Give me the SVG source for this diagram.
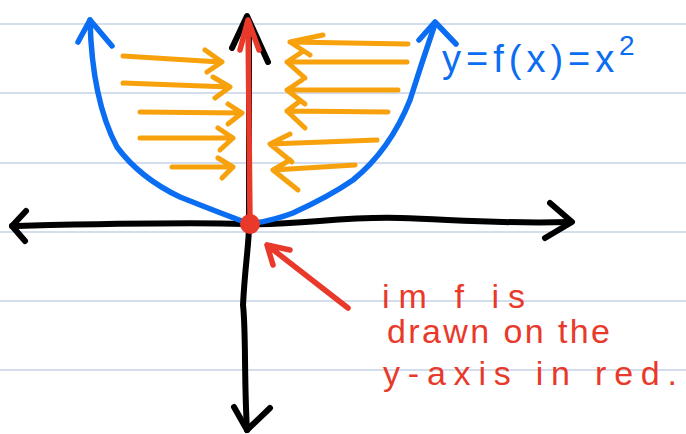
<svg xmlns="http://www.w3.org/2000/svg" width="686" height="434" viewBox="0 0 686 434">
<style>
.rule{stroke:#c6d2e4;stroke-width:1.5}
.k{fill:none;stroke:#000;stroke-width:6;stroke-linecap:round;stroke-linejoin:round}
.b{fill:none;stroke:#0a6df2;stroke-width:5.5;stroke-linecap:round;stroke-linejoin:round}
.o{fill:none;stroke:#f7a10c;stroke-width:5;stroke-linecap:round;stroke-linejoin:round}
.r{fill:none;stroke:#e8392a;stroke-width:5.5;stroke-linecap:round;stroke-linejoin:round}
.rt{fill:#e8392a;font-family:"Liberation Sans",Arial,sans-serif;font-size:34px}
.bt{fill:#0a6df2;font-family:"Liberation Sans",Arial,sans-serif;font-size:38px}
</style>
<rect width="686" height="434" fill="#fff"/>
<g id="rules">
<line class="rule" x1="0" y1="24" x2="686" y2="24"/>
<line class="rule" x1="0" y1="93" x2="686" y2="93"/>
<line class="rule" x1="0" y1="163" x2="686" y2="163"/>
<line class="rule" x1="0" y1="232" x2="686" y2="232"/>
<line class="rule" x1="0" y1="301" x2="686" y2="301"/>
<line class="rule" x1="0" y1="370" x2="686" y2="370"/>
</g>
<g id="orange-left">
<path class="o" d="M123,56 L220,62 M205,50 L222,62 L207,72"/>
<path class="o" d="M123,83 L230,87 M213,77 L230,87 L215,98"/>
<path class="o" d="M140,112 L242,113 M228,104 L242,113 L228,124"/>
<path class="o" d="M140,138 L233,138 M218,128 L233,138 L220,150"/>
<path class="o" d="M172,167 L233,167 M218,158 L233,167 L222,178"/>
</g>
<g id="orange-right">
<path class="o" d="M408,44 L290,42 M323,35 L290,42 L310,55"/>
<path class="o" d="M407,62 L287,62 M302,52 L287,62 L305,78"/>
<path class="o" d="M398,90 L287,90 M302,80 L287,90 L305,104"/>
<path class="o" d="M388,112 L287,111 M300,101 L287,111 L305,128"/>
<path class="o" d="M377,140 L270,144 M290,134 L270,144 L292,162"/>
<path class="o" d="M355,165 L273,170 M290,160 L273,170 L298,190"/>
</g>
<g id="axes">
<path class="k" d="M12,226 C100,224 180,222 245,224 C300,226 340,216 400,218 C460,220 500,224 570,222"/>
<path class="k" d="M26,211 L12,226 L25,241"/>
<path class="k" d="M550,203 L572,222 L545,238"/>
<path class="k" d="M247,430 C244,380 246,330 243,305 C245,265 249,245 249,225 L249,22"/>
<path class="k" d="M232,48 L247,16 L268,62"/>
<path class="k" d="M234,407 L247,430 L270,408"/>
</g>
<g id="parabola">
<path class="b" d="M90,20 Q92,100 117,147 Q140,178 180,197 Q220,213 250,224 Q275,220 293,213 Q330,196 353,180 Q390,150 410,100 Q422,62 435,24"/>
<path class="b" d="M78,42 L90,20 L112,46"/>
<path class="b" d="M419,40 L435,22 L456,44"/>
<text class="bt" x="442" y="72" letter-spacing="5">y=f(x)=x<tspan x="619" y="55" font-size="28" letter-spacing="0">2</tspan></text>
</g>
<g id="image">
<path class="r" d="M250,222 L248,22"/>
<path class="r" d="M240,50 L248,20 L259,50"/>
<circle cx="250" cy="224" r="10" fill="#e8392a"/>
</g>
<g id="connectors">
<path class="r" d="M348,308 L267,245 M290,250 L267,245 L273,265"/>
</g>
<g id="label">
<text class="rt" x="382" y="308" textLength="143" lengthAdjust="spacing">im f is</text>
<text class="rt" x="387" y="343" textLength="223" lengthAdjust="spacing">drawn on the</text>
<text class="rt" x="383" y="385" textLength="294" lengthAdjust="spacing">y-axis in red.</text>
</g>
</svg>
